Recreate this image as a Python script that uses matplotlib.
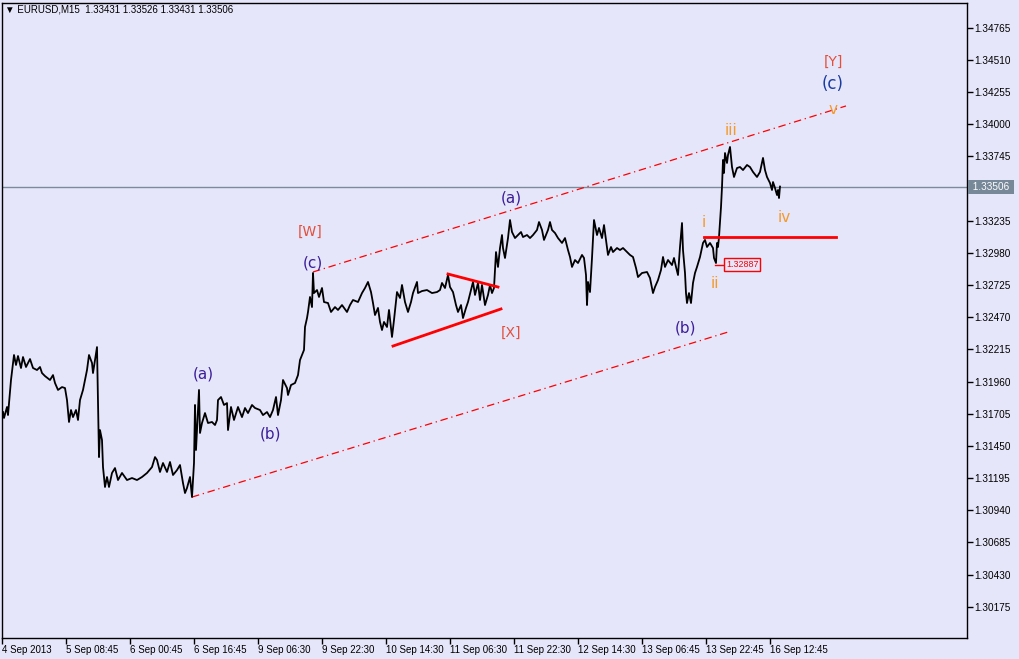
import matplotlib.pyplot as plt

# EURUSD M15 close path (bar index, price)
bars = [3, 4, 7, 8, 11, 13, 14, 16, 18, 21, 23, 26, 30, 33, 37, 40, 42, 45, 50, 53,
        55, 58, 62, 65, 67, 69, 71, 73, 76, 78, 80, 83, 85, 87, 89, 92, 93, 95, 97, 98,
        99, 100, 102, 103, 105, 107, 109, 112, 115, 118, 122, 127, 132, 137, 142, 147, 152, 155, 157, 160,
        163, 167, 170, 173, 177, 180, 183, 185, 187, 190, 192, 194, 195, 196, 199, 200, 202, 205, 208, 212,
        215, 217, 218, 221, 224, 227, 228, 231, 234, 238, 242, 245, 248, 252, 255, 260, 263, 267, 270, 273,
        276, 278, 281, 283, 287, 288, 291, 295, 298, 300, 302, 304, 305, 307, 308, 310, 312, 313, 314, 317,
        319, 322, 324, 328, 331, 335, 338, 342, 347, 350, 353, 358, 362, 365, 368, 371, 373, 375, 378, 380,
        382, 384, 387, 389, 392, 394, 397, 400, 402, 405, 408, 411, 413, 417, 418, 422, 427, 432, 437, 440,
        442, 445, 448, 450, 453, 456, 458, 461, 463, 466, 468, 471, 473, 475, 478, 480, 482, 485, 488, 490,
        492, 494, 496, 498, 500, 502, 503, 505, 508, 510, 512, 515, 518, 521, 523, 527, 530, 533, 537, 539,
        542, 544, 548, 550, 552, 555, 558, 562, 565, 568, 570, 572, 575, 578, 582, 584, 586, 587, 588, 590,
        592, 593, 594, 597, 599, 602, 604, 606, 608, 611, 613, 617, 620, 623, 627, 630, 633, 636, 638, 642,
        647, 650, 653, 655, 658, 661, 663, 665, 668, 672, 674, 676, 678, 680, 682, 683, 685, 686, 687, 689,
        691, 693, 695, 697, 700, 703, 705, 707, 710, 713, 714, 716, 717, 718, 719, 721, 722, 723, 724, 725,
        727, 728, 730, 732, 734, 737, 740, 743, 747, 750, 753, 757, 760, 763, 765, 767, 770, 772, 773, 775,
        777, 778, 779, 780]
prices = [1.31719, 1.31672, 1.31759, 1.31695, 1.31973, 1.32108, 1.32171, 1.32092, 1.32163, 1.32068,
          1.32155, 1.32076, 1.32139, 1.32068, 1.32052, 1.32076, 1.32028, 1.32004, 1.31973, 1.32012,
          1.31949, 1.31894, 1.31917, 1.31909, 1.31814, 1.31640, 1.31735, 1.31679, 1.31735, 1.31656,
          1.31814, 1.31894, 1.31973, 1.32052, 1.32171, 1.32108, 1.32028, 1.32131, 1.32234, 1.31814,
          1.31362, 1.31576, 1.31497, 1.31283, 1.31125, 1.31204, 1.31125, 1.31236, 1.31275, 1.31180,
          1.31236, 1.31180, 1.31196, 1.31180, 1.31204, 1.31236, 1.31283, 1.31362, 1.31339, 1.31244,
          1.31315, 1.31244, 1.31323, 1.31220, 1.31259, 1.31299, 1.31156, 1.31077, 1.31117, 1.31204,
          1.31045, 1.31315, 1.31775, 1.31418, 1.31894, 1.31553, 1.31632, 1.31711, 1.31632, 1.31640,
          1.31616, 1.31656, 1.31814, 1.31838, 1.31775, 1.31790, 1.31576, 1.31759, 1.31656, 1.31759,
          1.31679, 1.31751, 1.31711, 1.31775, 1.31751, 1.31735, 1.31695, 1.31719, 1.31679, 1.31735,
          1.31838, 1.31695, 1.31814, 1.31973, 1.31909, 1.31854, 1.31933, 1.31949, 1.32012, 1.32131,
          1.32171, 1.32211, 1.32393, 1.32464, 1.32512, 1.32631, 1.32551, 1.32821, 1.32662, 1.32686,
          1.32631, 1.32702, 1.32591, 1.32583, 1.32512, 1.32551, 1.32528, 1.32567, 1.32512, 1.32567,
          1.32607, 1.32591, 1.32662, 1.32702, 1.32750, 1.32670, 1.32583, 1.32488, 1.32544, 1.32433,
          1.32369, 1.32433, 1.32393, 1.32528, 1.32314, 1.32448, 1.32670, 1.32623, 1.32726, 1.32591,
          1.32512, 1.32591, 1.32662, 1.32750, 1.32662, 1.32678, 1.32686, 1.32662, 1.32670, 1.32686,
          1.32742, 1.32702, 1.32805, 1.32710, 1.32670, 1.32567, 1.32512, 1.32567, 1.32464, 1.32544,
          1.32591, 1.32686, 1.32750, 1.32647, 1.32742, 1.32607, 1.32726, 1.32567, 1.32647, 1.32726,
          1.32662, 1.32702, 1.32987, 1.32869, 1.33019, 1.33122, 1.33019, 1.32940, 1.33098, 1.33241,
          1.33146, 1.33098, 1.33122, 1.33146, 1.33106, 1.33122, 1.33098, 1.33122, 1.33162, 1.33225,
          1.33162, 1.33083, 1.33162, 1.33225, 1.33162, 1.33138, 1.33098, 1.33059, 1.33098, 1.33003,
          1.32948, 1.32869, 1.32924, 1.32900, 1.32964, 1.32940, 1.32805, 1.32567, 1.32750, 1.32670,
          1.32940, 1.33098, 1.33241, 1.33122, 1.33178, 1.33098, 1.33201, 1.33083, 1.32964, 1.33027,
          1.32987, 1.33019, 1.33003, 1.33019, 1.32987, 1.32964, 1.32948, 1.32861, 1.32789, 1.32821,
          1.32829, 1.32781, 1.32662, 1.32710, 1.32765, 1.32845, 1.32948, 1.32869, 1.32924, 1.32884,
          1.32940, 1.32869, 1.32805, 1.33027, 1.33217, 1.33003, 1.32821, 1.32662, 1.32583, 1.32662,
          1.32583, 1.32742, 1.32821, 1.32869, 1.32948, 1.33059, 1.33083, 1.33027, 1.33059, 1.33019,
          1.32940, 1.32900, 1.33059, 1.33027, 1.33106, 1.33344, 1.33503, 1.33717, 1.33614, 1.33772,
          1.33693, 1.33756, 1.33820, 1.33661, 1.33582, 1.33653, 1.33661, 1.33637, 1.33677, 1.33661,
          1.33622, 1.33582, 1.33622, 1.33733, 1.33637, 1.33582, 1.33534, 1.33479, 1.33542, 1.33495,
          1.33439, 1.33479, 1.33415, 1.33506]

header = '\u25bc EURUSD,M15  1.33431 1.33526 1.33431 1.33506'
last_price = 1.33506

date_labels = ['4 Sep 2013', '5 Sep 08:45', '6 Sep 00:45', '6 Sep 16:45', '9 Sep 06:30',
               '9 Sep 22:30', '10 Sep 14:30', '11 Sep 06:30', '11 Sep 22:30', '12 Sep 14:30',
               '13 Sep 06:45', '13 Sep 22:45', '16 Sep 12:45']
date_bars = [2, 66, 130, 194, 258, 322, 386, 450, 514, 578, 642, 706, 770]
# 1.33490 is hidden behind the current price label
price_ticks = [1.30175, 1.30430, 1.30685, 1.30940, 1.31195, 1.31450, 1.31705, 1.31960,
               1.32215, 1.32470, 1.32725, 1.32980, 1.33235, 1.33745, 1.34000,
               1.34255, 1.34510, 1.34765]

# analysis drawings (bar, price)
upper_channel = ([313, 846], [1.32829, 1.34145])
lower_channel = ([192, 728], [1.31045, 1.32353])
tri_top = ([448, 498], [1.32813, 1.32710])
tri_bottom = ([393, 501], [1.32242, 1.32536])
level_line = ([704, 836], [1.33106, 1.33106])
low_mark_bar, low_mark = 715, 1.32887

minor_labels = [('(a)', 203, 1.32020), ('(b)', 271, 1.31545), ('(c)', 313, 1.32900),
                ('(a)', 511, 1.33415), ('(b)', 686, 1.32385)]
major_labels = [('[W]', 310, 1.33146), ('[X]', 511, 1.32345), ('[Y]', 833, 1.34494)]
sub_labels = [('iii', 731, 1.33947), ('i', 704, 1.33225), ('ii', 715, 1.32734),
              ('iv', 784, 1.33257), ('v', 833, 1.34113)]

plt.rcParams['font.family'] = ['Liberation Sans', 'DejaVu Sans']

bg = '#e6e6fa'
fig = plt.figure(figsize=(10.2, 6.59), dpi=100, facecolor=bg)
ax = fig.add_axes([2 / 1020, 21 / 659, 965 / 1020, 635 / 659], facecolor=bg)
ax.set_xlim(2, 967)
ax.set_ylim(1.29928, 1.34961)

ax.axhline(last_price, color='#7b8b9b', lw=1, zorder=1)
ax.plot(bars, prices, color='black', lw=1.3, zorder=3)

ax.plot(*upper_channel, color='red', lw=0.9, ls=(0, (6, 3, 1, 3)), zorder=2)
ax.plot(*lower_channel, color='red', lw=0.9, ls=(0, (6, 3, 1, 3)), zorder=2)
ax.plot(*tri_top, color='red', lw=2, zorder=4)
ax.plot(*tri_bottom, color='red', lw=2, zorder=4)
ax.plot(*level_line, color='red', lw=2, zorder=4)
ax.plot([low_mark_bar, low_mark_bar + 10], [low_mark, low_mark], color='red', lw=1, zorder=4)
ax.text(low_mark_bar + 11, low_mark, f'{low_mark:.5f}', color='red', fontsize=6.5,
        va='center', ha='left', zorder=5,
        bbox=dict(boxstyle='square,pad=0.2', fc=bg, ec='red', lw=1))

for txt, x, y in minor_labels:
    ax.text(x, y, txt, color='#3c1e9a', fontsize=11, ha='center', va='center',
            family='DejaVu Sans')
for txt, x, y in major_labels:
    ax.text(x, y, txt, color='#e2503c', fontsize=10, ha='center', va='center',
            family='DejaVu Sans')
ax.text(833, 1.34319, '(c)', color='#1a3ca0', fontsize=12, ha='center', va='center',
        family='DejaVu Sans')
for txt, x, y in sub_labels:
    ax.text(x, y, txt, color='#f39a2c', fontsize=11, ha='center', va='center',
            family='DejaVu Sans')

ax.yaxis.tick_right()
ax.set_yticks(price_ticks)
ax.set_yticklabels([f'{p:.5f}' for p in price_ticks])
ax.set_xticks(date_bars)
ax.set_xticklabels(date_labels, ha='left')
ax.tick_params(axis='both', direction='out', length=4, width=1, colors='black', pad=1)
ax.tick_params(axis='x', labelsize=7)
ax.tick_params(axis='y', labelsize=7.2)
for s in ax.spines.values():
    s.set_color('black')
    s.set_linewidth(1)

ax.text(1.003, last_price, f' {last_price:.5f} ', transform=ax.get_yaxis_transform(),
        color='white', fontsize=7.2, va='center', ha='left', zorder=6,
        bbox=dict(boxstyle='square,pad=0.2', fc='#778899', ec='none'))

fig.text(5 / 1020, 1 - 10 / 659, header, fontsize=7, va='center', ha='left')

fig.savefig('out.png', dpi=100, facecolor=bg)
